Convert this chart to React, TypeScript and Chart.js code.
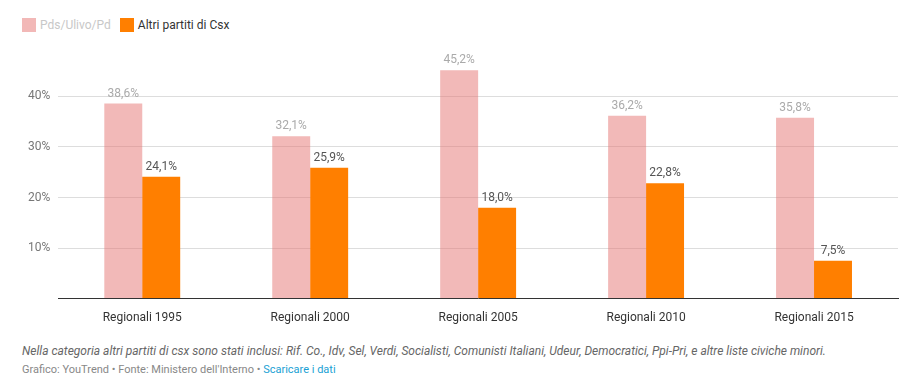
import React, { useEffect, useRef } from "react";
import { Chart, registerables } from "chart.js";

Chart.register(...registerables);

const categories = ["Regionali 1995", "Regionali 2000", "Regionali 2005", "Regionali 2010", "Regionali 2015"];
const pdsValues = [38.6, 32.1, 45.2, 36.2, 35.8];
const altriValues = [24.1, 25.9, 18.0, 22.8, 7.5];
const seriesNames = ["Pds/Ulivo/Pd", "Altri partiti di Csx"];
const yTicks = [0, 10, 20, 30, 40];

const PINK = "rgba(230,115,113,0.5)";
const PINK_SWATCH = "#f2b8b7";
const ORANGE = "#ff7f00";
const FONT = "Roboto, 'Noto Sans', sans-serif";

const fmt = (v: number) => v.toFixed(1).replace(".", ",") + "%";

const labelPlugin = {
  id: "barLabels",
  afterDatasetsDraw(chart: any) {
    const ctx = chart.ctx;
    ctx.save();
    ctx.font = `12px ${FONT}`;
    ctx.textAlign = "center";
    ctx.textBaseline = "bottom";
    chart.data.datasets.forEach((ds: any, di: number) => {
      const meta = chart.getDatasetMeta(di);
      ctx.fillStyle = di === 0 ? "#aaaaaa" : "#555555";
      meta.data.forEach((bar: any, i: number) => {
        ctx.fillText(fmt(ds.data[i]), bar.x, bar.y - 4);
      });
    });
    ctx.restore();
  },
};

export default function App() {
  const ref = useRef<HTMLCanvasElement | null>(null);
  useEffect(() => {
    document.body.style.margin = "0";
    const chart = new Chart(ref.current!, {
      type: "bar",
      data: {
        labels: categories,
        datasets: [
          { label: seriesNames[0], data: pdsValues, backgroundColor: PINK },
          { label: seriesNames[1], data: altriValues, backgroundColor: ORANGE },
        ],
      },
      options: {
        animation: false,
        responsive: false,
        maintainAspectRatio: false,
        layout: { padding: { top: 56, left: 20, right: 24, bottom: 4 } },
        datasets: { bar: { categoryPercentage: 0.452, barPercentage: 1 } },
        plugins: { legend: { display: false }, tooltip: { enabled: false } },
        scales: {
          x: {
            grid: { display: false, drawTicks: false },
            border: { display: true, color: "#333333", width: 1 },
            ticks: { color: "#333333", font: { family: FONT, size: 12 }, padding: 12 },
          },
          y: {
            min: 0,
            max: 48,
            afterBuildTicks: (axis: any) => {
              axis.ticks = yTicks.map((v) => ({ value: v }));
            },
            grid: { color: "#dddddd", drawTicks: false },
            border: { display: false },
            ticks: {
              color: "#777777",
              font: { family: FONT, size: 12 },
              padding: 8,
              callback: (v: any) => (v === 0 ? "" : v + "%"),
            },
          },
        },
      },
      plugins: [labelPlugin],
    });
    return () => chart.destroy();
  }, []);

  return (
    <div style={{ position: "relative", width: 922, height: 392, fontFamily: FONT, background: "#fff" }}>
      <div style={{ position: "absolute", left: 22, top: 18, display: "flex", alignItems: "center", fontSize: 12, lineHeight: "14px" }}>
        <span style={{ display: "inline-block", width: 14, height: 14, background: PINK_SWATCH }} />
        <span style={{ marginLeft: 4, color: "#c8c8c8" }}>{seriesNames[0]}</span>
        <span style={{ display: "inline-block", width: 14, height: 14, background: ORANGE, marginLeft: 9 }} />
        <span style={{ marginLeft: 4, color: "#333333" }}>{seriesNames[1]}</span>
      </div>
      <canvas ref={ref} width={922} height={341} style={{ position: "absolute", left: 0, top: 0 }} />
      <div style={{ position: "absolute", left: 22, top: 344, fontSize: 12, fontStyle: "italic", color: "#666666", whiteSpace: "nowrap" }}>
        Nella categoria altri partiti di csx sono stati inclusi: Rif. Co., Idv, Sel, Verdi, Socialisti, Comunisti Italiani, Udeur, Democratici, Ppi-Pri, e altre liste civiche minori.
      </div>
      <div style={{ position: "absolute", left: 22, top: 363, fontSize: 11, color: "#888888", whiteSpace: "nowrap" }}>
        Grafico: YouTrend • Fonte: Ministero dell'Interno • <span style={{ color: "#1a9fd4" }}>Scaricare i dati</span>
      </div>
    </div>
  );
}
